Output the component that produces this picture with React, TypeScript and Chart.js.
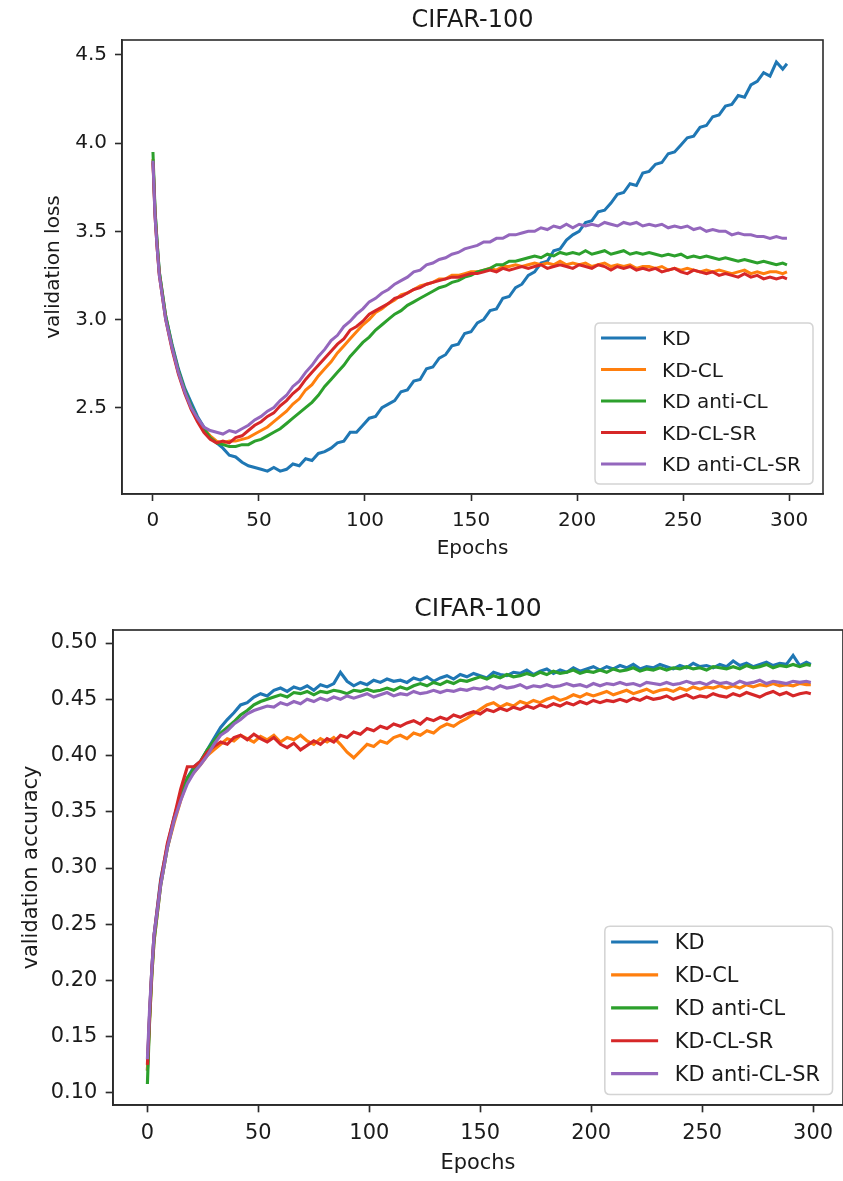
import { useEffect, useRef } from "react";
import { Chart, registerables } from "chart.js";
Chart.register(...registerables);

const TITLE = "CIFAR-100";
const X_LABEL = "Epochs";
const LOSS_LABEL = "validation loss";
const ACC_LABEL = "validation accuracy";
const SERIES_NAMES = ["KD", "KD-CL", "KD anti-CL", "KD-CL-SR", "KD anti-CL-SR"];
const COLORS = ["#1f77b4", "#ff7f0e", "#2ca02c", "#d62728", "#9467bd"];

const EPOCH_TICKS = [0, 50, 100, 150, 200, 250, 300];
const LOSS_TICKS = [2.5, 3.0, 3.5, 4.0, 4.5];
const ACC_TICKS = [0.1, 0.15, 0.2, 0.25, 0.3, 0.35, 0.4, 0.45, 0.5];

const EPOCHS = [
  0, 1, 2, 3, 6, 9, 12, 15, 18, 21,
  24, 27, 30, 33, 36, 39, 42, 45, 48, 51,
  54, 57, 60, 63, 66, 69, 72, 75, 78, 81,
  84, 87, 90, 93, 96, 99, 102, 105, 108, 111,
  114, 117, 120, 123, 126, 129, 132, 135, 138, 141,
  144, 147, 150, 153, 156, 159, 162, 165, 168, 171,
  174, 177, 180, 183, 186, 189, 192, 195, 198, 201,
  204, 207, 210, 213, 216, 219, 222, 225, 228, 231,
  234, 237, 240, 243, 246, 249, 252, 255, 258, 261,
  264, 267, 270, 273, 276, 279, 282, 285, 288, 291,
  294, 297, 299,
];

// ---- validation loss ----
const LOSS_KD = [
  3.90, 3.61, 3.43, 3.27, 3.02, 2.86, 2.72, 2.61, 2.53, 2.45,
  2.39, 2.33, 2.30, 2.27, 2.23, 2.22, 2.19, 2.17, 2.16, 2.15,
  2.14, 2.16, 2.14, 2.15, 2.18, 2.17, 2.21, 2.20, 2.24, 2.25,
  2.27, 2.30, 2.31, 2.36, 2.36, 2.40, 2.44, 2.45, 2.50, 2.52,
  2.54, 2.59, 2.60, 2.65, 2.66, 2.72, 2.73, 2.78, 2.80, 2.85,
  2.86, 2.92, 2.93, 2.98, 3.00, 3.05, 3.06, 3.12, 3.13, 3.18,
  3.20, 3.25, 3.27, 3.32, 3.33, 3.39, 3.40, 3.45, 3.48, 3.50,
  3.55, 3.56, 3.61, 3.62, 3.66, 3.71, 3.72, 3.77, 3.76, 3.83,
  3.84, 3.88, 3.89, 3.94, 3.95, 3.99, 4.03, 4.04, 4.09, 4.10,
  4.15, 4.16, 4.21, 4.22, 4.27, 4.26, 4.33, 4.35, 4.40, 4.38,
  4.46, 4.42, 4.45,
];
const LOSS_KD_CL = [
  3.91, 3.60, 3.41, 3.26, 3.01, 2.84, 2.70, 2.59, 2.50, 2.43,
  2.38, 2.34, 2.31, 2.30, 2.31, 2.31, 2.32, 2.33, 2.35, 2.37,
  2.39, 2.42, 2.45, 2.48, 2.52, 2.55, 2.60, 2.63, 2.68, 2.72,
  2.76, 2.81, 2.85, 2.89, 2.93, 2.97, 3.00, 3.04, 3.06, 3.09,
  3.11, 3.14, 3.15, 3.17, 3.19, 3.20, 3.21, 3.23, 3.23, 3.25,
  3.25, 3.26, 3.27, 3.27, 3.28, 3.29, 3.28, 3.30, 3.30, 3.31,
  3.30, 3.31, 3.32, 3.31, 3.32, 3.31, 3.33, 3.31, 3.32, 3.31,
  3.32, 3.30, 3.31, 3.32, 3.30, 3.31, 3.30, 3.31, 3.29, 3.30,
  3.30, 3.29, 3.30, 3.28, 3.29, 3.28, 3.29, 3.28, 3.27, 3.28,
  3.27, 3.28, 3.27, 3.26, 3.27, 3.28, 3.26, 3.27, 3.26, 3.27,
  3.27, 3.26, 3.27,
];
const LOSS_KD_ANTI_CL = [
  3.95, 3.62, 3.43, 3.27, 3.02, 2.85, 2.71, 2.60, 2.51, 2.44,
  2.38, 2.33, 2.30, 2.29, 2.28, 2.28, 2.29, 2.29, 2.31, 2.32,
  2.34, 2.36, 2.38, 2.41, 2.44, 2.47, 2.50, 2.53, 2.57, 2.62,
  2.66, 2.70, 2.74, 2.79, 2.83, 2.87, 2.90, 2.94, 2.97, 3.00,
  3.03, 3.05, 3.08, 3.10, 3.12, 3.14, 3.16, 3.18, 3.19, 3.21,
  3.22, 3.24, 3.25, 3.27, 3.28, 3.29, 3.31, 3.31, 3.33, 3.33,
  3.34, 3.35, 3.36, 3.35, 3.37, 3.36, 3.38, 3.37, 3.38, 3.37,
  3.39, 3.37, 3.38, 3.39, 3.37, 3.38, 3.39, 3.37, 3.38, 3.37,
  3.38, 3.37, 3.36, 3.37, 3.36, 3.37, 3.35, 3.36, 3.35, 3.36,
  3.35, 3.34, 3.35, 3.34, 3.33, 3.34, 3.33, 3.32, 3.33, 3.32,
  3.31, 3.32, 3.31,
];
const LOSS_KD_CL_SR = [
  3.89, 3.58, 3.40, 3.25, 3.00, 2.83, 2.69, 2.58, 2.49, 2.42,
  2.36, 2.32, 2.30, 2.31, 2.30, 2.33, 2.34, 2.37, 2.40, 2.42,
  2.45, 2.47, 2.51, 2.54, 2.58, 2.61, 2.66, 2.70, 2.74, 2.78,
  2.82, 2.86, 2.89, 2.94, 2.96, 2.99, 3.03, 3.05, 3.07, 3.09,
  3.12, 3.13, 3.15, 3.17, 3.18, 3.20, 3.21, 3.22, 3.23, 3.24,
  3.24, 3.25, 3.26, 3.26, 3.27, 3.28, 3.27, 3.29, 3.28, 3.29,
  3.30, 3.29, 3.30, 3.31, 3.29, 3.30, 3.31, 3.30, 3.29, 3.31,
  3.30, 3.29, 3.31, 3.30, 3.28, 3.30, 3.29, 3.30, 3.28, 3.29,
  3.28, 3.29, 3.27, 3.28, 3.29, 3.27, 3.26, 3.28, 3.27, 3.26,
  3.27, 3.25, 3.26, 3.25, 3.24, 3.26, 3.24, 3.25, 3.23, 3.24,
  3.23, 3.24, 3.23,
];
const LOSS_KD_ANTI_CL_SR = [
  3.90, 3.58, 3.40, 3.25, 3.00, 2.84, 2.70, 2.59, 2.50, 2.44,
  2.39, 2.37, 2.36, 2.35, 2.37, 2.36, 2.38, 2.40, 2.43, 2.45,
  2.48, 2.50, 2.54, 2.57, 2.62, 2.65, 2.70, 2.74, 2.79, 2.83,
  2.88, 2.91, 2.96, 2.99, 3.03, 3.06, 3.10, 3.12, 3.15, 3.17,
  3.20, 3.22, 3.24, 3.27, 3.28, 3.31, 3.32, 3.34, 3.35, 3.37,
  3.38, 3.40, 3.41, 3.42, 3.44, 3.44, 3.46, 3.46, 3.48, 3.48,
  3.49, 3.50, 3.50, 3.52, 3.51, 3.53, 3.52, 3.54, 3.52, 3.54,
  3.53, 3.54, 3.53, 3.55, 3.54, 3.53, 3.55, 3.54, 3.55, 3.53,
  3.54, 3.53, 3.54, 3.52, 3.53, 3.52, 3.53, 3.51, 3.52, 3.50,
  3.51, 3.50, 3.50, 3.48, 3.49, 3.48, 3.48, 3.47, 3.47, 3.46,
  3.47, 3.46, 3.46,
];

// ---- validation accuracy ----
const ACC_KD = [
  0.120, 0.170, 0.210, 0.240, 0.290, 0.320, 0.345, 0.365, 0.380, 0.390,
  0.395, 0.405, 0.415, 0.425, 0.432, 0.438, 0.445, 0.447, 0.452, 0.455,
  0.453, 0.458, 0.460, 0.457, 0.461, 0.459, 0.462, 0.458, 0.463, 0.461,
  0.464, 0.474, 0.466, 0.462, 0.465, 0.463, 0.467, 0.465, 0.468, 0.466,
  0.467, 0.465, 0.469, 0.467, 0.470, 0.466, 0.469, 0.471, 0.468, 0.472,
  0.470, 0.473, 0.471, 0.469, 0.474, 0.472, 0.471, 0.474, 0.473, 0.476,
  0.472, 0.475, 0.477, 0.473, 0.476, 0.474, 0.478, 0.475, 0.477, 0.479,
  0.476, 0.479, 0.477, 0.480, 0.478, 0.481, 0.477, 0.479, 0.478, 0.481,
  0.479, 0.477, 0.480, 0.478, 0.482, 0.479, 0.480, 0.478, 0.481, 0.479,
  0.484, 0.480, 0.482, 0.479, 0.481, 0.483, 0.480, 0.482, 0.481, 0.489,
  0.480, 0.483, 0.481,
];
const ACC_KD_CL = [
  0.120, 0.165, 0.205, 0.235, 0.285, 0.318, 0.340, 0.360, 0.378, 0.385,
  0.392, 0.400, 0.405, 0.410, 0.415, 0.413, 0.418, 0.415, 0.412, 0.417,
  0.414, 0.418, 0.412, 0.416, 0.414, 0.418, 0.413, 0.410, 0.415, 0.412,
  0.416, 0.410, 0.403, 0.398, 0.404, 0.410, 0.408, 0.413, 0.411, 0.416,
  0.418, 0.415, 0.420, 0.418, 0.422, 0.420, 0.425, 0.428, 0.426, 0.430,
  0.433, 0.437, 0.441, 0.445, 0.447, 0.443, 0.446, 0.444, 0.448, 0.446,
  0.449, 0.447, 0.450, 0.452, 0.449, 0.451, 0.454, 0.452, 0.455, 0.453,
  0.455, 0.457, 0.454, 0.456, 0.458, 0.455, 0.457, 0.459, 0.456, 0.458,
  0.459, 0.457, 0.460, 0.458, 0.461, 0.459, 0.461, 0.460, 0.462, 0.460,
  0.462, 0.460, 0.463, 0.461, 0.463, 0.462, 0.464, 0.462, 0.463, 0.462,
  0.464, 0.463, 0.463,
];
const ACC_KD_ANTI_CL = [
  0.108, 0.165, 0.205, 0.235, 0.285, 0.318, 0.343, 0.363, 0.380, 0.388,
  0.395, 0.405, 0.413, 0.420, 0.425, 0.430, 0.436, 0.440, 0.445, 0.448,
  0.450, 0.452, 0.454, 0.452, 0.456, 0.455, 0.457, 0.454, 0.457, 0.456,
  0.458, 0.457, 0.455, 0.458, 0.457, 0.459, 0.457, 0.458, 0.460, 0.458,
  0.461, 0.459, 0.462, 0.464, 0.462, 0.465, 0.463, 0.466, 0.464, 0.467,
  0.466, 0.468, 0.470, 0.468, 0.471, 0.469, 0.472, 0.470, 0.471, 0.473,
  0.471, 0.474, 0.472, 0.475, 0.473, 0.474, 0.476, 0.473, 0.475, 0.474,
  0.476, 0.474, 0.477, 0.475, 0.476, 0.478, 0.475, 0.477, 0.476, 0.478,
  0.476, 0.478, 0.477, 0.479, 0.477, 0.478, 0.476, 0.479, 0.478, 0.477,
  0.479, 0.477, 0.480, 0.478, 0.479, 0.481, 0.478, 0.480, 0.479, 0.481,
  0.479, 0.481, 0.480,
];
const ACC_KD_CL_SR = [
  0.125, 0.170, 0.210, 0.240, 0.288, 0.322, 0.345, 0.370, 0.390, 0.390,
  0.395, 0.403, 0.408, 0.412, 0.410, 0.416, 0.418, 0.414, 0.419, 0.415,
  0.412, 0.416, 0.410, 0.407, 0.411, 0.405, 0.409, 0.413, 0.410, 0.415,
  0.412, 0.418, 0.416, 0.421, 0.419, 0.424, 0.422, 0.426, 0.424, 0.428,
  0.426, 0.429, 0.431, 0.428, 0.433, 0.431, 0.434, 0.432, 0.436, 0.434,
  0.437, 0.439, 0.437, 0.441, 0.439, 0.442, 0.440, 0.443, 0.441, 0.444,
  0.442, 0.445, 0.443, 0.446, 0.444, 0.447, 0.445, 0.448, 0.446, 0.449,
  0.447, 0.449, 0.448, 0.450, 0.448, 0.451, 0.449, 0.452, 0.450, 0.451,
  0.453, 0.450, 0.452, 0.454, 0.451, 0.453, 0.452, 0.455, 0.453, 0.452,
  0.455, 0.453, 0.456, 0.454, 0.452, 0.455, 0.457, 0.454, 0.456, 0.453,
  0.455, 0.456, 0.455,
];
const ACC_KD_ANTI_CL_SR = [
  0.130, 0.175, 0.210, 0.240, 0.285, 0.318, 0.342, 0.360, 0.375, 0.385,
  0.392, 0.400, 0.410, 0.418, 0.422, 0.428, 0.432, 0.437, 0.440, 0.442,
  0.444, 0.443, 0.447, 0.445, 0.448, 0.446, 0.450, 0.448, 0.451, 0.449,
  0.452, 0.450, 0.453, 0.451, 0.453, 0.455, 0.452, 0.454, 0.456, 0.453,
  0.455, 0.454, 0.457, 0.455, 0.456, 0.458, 0.456, 0.458, 0.457, 0.459,
  0.458, 0.460, 0.459, 0.461, 0.459, 0.462, 0.460, 0.461, 0.463, 0.460,
  0.462, 0.461, 0.463, 0.461, 0.462, 0.464, 0.462, 0.463, 0.461, 0.464,
  0.462, 0.464, 0.463, 0.465, 0.463, 0.464, 0.462, 0.465, 0.464, 0.463,
  0.465, 0.463, 0.464, 0.466, 0.464, 0.465, 0.463, 0.466, 0.464, 0.465,
  0.463, 0.466, 0.464, 0.465, 0.467, 0.464, 0.466, 0.465, 0.464, 0.466,
  0.465, 0.466, 0.465,
];

const LOSS_SERIES = [LOSS_KD, LOSS_KD_CL, LOSS_KD_ANTI_CL, LOSS_KD_CL_SR, LOSS_KD_ANTI_CL_SR];
const ACC_SERIES = [ACC_KD, ACC_KD_CL, ACC_KD_ANTI_CL, ACC_KD_CL_SR, ACC_KD_ANTI_CL_SR];

const FONT = '"DejaVu Sans", "Liberation Sans", sans-serif';
const TEXT = "#1a1a1a";
const SPINE = "#2b2b2b";

type Cfg = {
  series: number[][];
  yTicks: number[];
  decimals: number;
  yMin: number;
  yMax: number;
  xMin: number;
  xMax: number;
  yLabel: string;
  s: number;
  yWidth: number;
  xHeight: number;
  padRight: number;
  yTitlePad: number;
  xTitlePad: number;
};

function decorPlugin(s: number) {
  return {
    id: "decor",
    afterDraw(chart: any) {
      const { ctx, chartArea: a } = chart;
      ctx.save();
      // frame (all four spines)
      ctx.strokeStyle = SPINE;
      ctx.lineWidth = 1.6 * s;
      ctx.strokeRect(a.left, a.top, a.right - a.left, a.bottom - a.top);
      // title
      ctx.fillStyle = TEXT;
      ctx.font = `${24 * s}px ${FONT}`;
      ctx.textAlign = "center";
      ctx.textBaseline = "alphabetic";
      ctx.fillText(TITLE, (a.left + a.right) / 2, a.top - 13 * s);
      // legend
      const fs = 20 * s;
      ctx.font = `${fs}px ${FONT}`;
      const tw = Math.max(...SERIES_NAMES.map((n) => ctx.measureText(n).width));
      const w = 67 * s + tw + 12 * s;
      const h = 161 * s;
      const right = a.right - 10 * s;
      const bottom = a.bottom - 10 * s;
      const left = right - w;
      const top = bottom - h;
      const r = 5 * s;
      ctx.beginPath();
      ctx.moveTo(left + r, top);
      ctx.lineTo(right - r, top);
      ctx.quadraticCurveTo(right, top, right, top + r);
      ctx.lineTo(right, bottom - r);
      ctx.quadraticCurveTo(right, bottom, right - r, bottom);
      ctx.lineTo(left + r, bottom);
      ctx.quadraticCurveTo(left, bottom, left, bottom - r);
      ctx.lineTo(left, top + r);
      ctx.quadraticCurveTo(left, top, left + r, top);
      ctx.closePath();
      ctx.fillStyle = "rgba(255,255,255,0.8)";
      ctx.fill();
      ctx.strokeStyle = "#d4d4d4";
      ctx.lineWidth = 1.5 * s;
      ctx.stroke();
      SERIES_NAMES.forEach((name, i) => {
        const y = top + 15 * s + i * 31.5 * s;
        ctx.strokeStyle = COLORS[i];
        ctx.lineWidth = 3 * s;
        ctx.beginPath();
        ctx.moveTo(left + 6 * s, y);
        ctx.lineTo(left + 51 * s, y);
        ctx.stroke();
        ctx.fillStyle = TEXT;
        ctx.textAlign = "left";
        ctx.textBaseline = "middle";
        ctx.fillText(name, left + 67 * s, y + 2 * s);
      });
      ctx.restore();
    },
  };
}

function makeConfig(c: Cfg): any {
  const s = c.s;
  const fontSpec = { family: FONT, size: 20 * s, lineHeight: 1.2 };
  const grid = {
    display: true,
    drawOnChartArea: false,
    drawTicks: true,
    tickLength: 7 * s,
    tickWidth: 1.6 * s,
    tickColor: SPINE,
  };
  const border = { display: true, color: SPINE, width: 1.6 * s };
  return {
    type: "line",
    data: {
      datasets: SERIES_NAMES.map((name, i) => ({
        label: name,
        data: EPOCHS.map((e, j) => ({ x: e, y: c.series[i][j] })),
        borderColor: COLORS[i],
        backgroundColor: COLORS[i],
        borderWidth: 3 * s,
        pointRadius: 0,
        fill: false,
        tension: 0,
        order: SERIES_NAMES.length - i,
      })),
    },
    options: {
      responsive: false,
      animation: false,
      devicePixelRatio: 1,
      layout: { padding: { top: 40, right: c.padRight, left: 0, bottom: 0 } },
      plugins: {
        legend: { display: false },
        title: { display: false },
        tooltip: { enabled: false },
      },
      scales: {
        x: {
          type: "linear",
          min: c.xMin,
          max: c.xMax,
          afterBuildTicks: (sc: any) => {
            sc.ticks = EPOCH_TICKS.map((v) => ({ value: v }));
          },
          afterFit: (sc: any) => {
            sc.height = c.xHeight;
          },
          ticks: {
            font: fontSpec,
            color: TEXT,
            padding: 8 * s,
            maxRotation: 0,
            autoSkip: false,
            callback: (v: any) => String(v),
          },
          grid,
          border,
          title: {
            display: true,
            text: X_LABEL,
            font: fontSpec,
            color: TEXT,
            padding: { top: 0, bottom: c.xTitlePad },
          },
        },
        y: {
          type: "linear",
          min: c.yMin,
          max: c.yMax,
          afterBuildTicks: (sc: any) => {
            sc.ticks = c.yTicks.map((v) => ({ value: v }));
          },
          afterFit: (sc: any) => {
            sc.width = c.yWidth;
          },
          ticks: {
            font: fontSpec,
            color: TEXT,
            padding: 8 * s,
            autoSkip: false,
            callback: (v: any) => Number(v).toFixed(c.decimals),
          },
          grid,
          border,
          title: {
            display: true,
            text: c.yLabel,
            font: fontSpec,
            color: TEXT,
            padding: { top: c.yTitlePad, bottom: 0 },
          },
        },
      },
    },
    plugins: [decorPlugin(s)],
  };
}

export default function App() {
  const topRef = useRef<HTMLCanvasElement>(null);
  const botRef = useRef<HTMLCanvasElement>(null);
  useEffect(() => {
    const c1 = new Chart(
      topRef.current as HTMLCanvasElement,
      makeConfig({
        series: LOSS_SERIES,
        yTicks: LOSS_TICKS,
        decimals: 1,
        yMin: 2.01,
        yMax: 4.585,
        xMin: -14.6,
        xMax: 316,
        yLabel: LOSS_LABEL,
        s: 1,
        yWidth: 122,
        xHeight: 96,
        padRight: 20,
        yTitlePad: 42,
        xTitlePad: 29,
      })
    );
    const c2 = new Chart(
      botRef.current as HTMLCanvasElement,
      makeConfig({
        series: ACC_SERIES,
        yTicks: ACC_TICKS,
        decimals: 2,
        yMin: 0.0893,
        yMax: 0.5116,
        xMin: -15.5,
        xMax: 313.5,
        yLabel: ACC_LABEL,
        s: 1.045,
        yWidth: 113,
        xHeight: 76,
        padRight: 0,
        yTitlePad: 19,
        xTitlePad: 5,
      })
    );
    return () => {
      c1.destroy();
      c2.destroy();
    };
  }, []);
  return (
    <div style={{ position: "absolute", left: 0, top: 0, width: 843, height: 1181, background: "#fff" }}>
      <canvas
        ref={topRef}
        width={843}
        height={590}
        style={{ position: "absolute", left: 0, top: 0, width: 843, height: 590 }}
      />
      <canvas
        ref={botRef}
        width={843}
        height={591}
        style={{ position: "absolute", left: 0, top: 590, width: 843, height: 591 }}
      />
    </div>
  );
}
